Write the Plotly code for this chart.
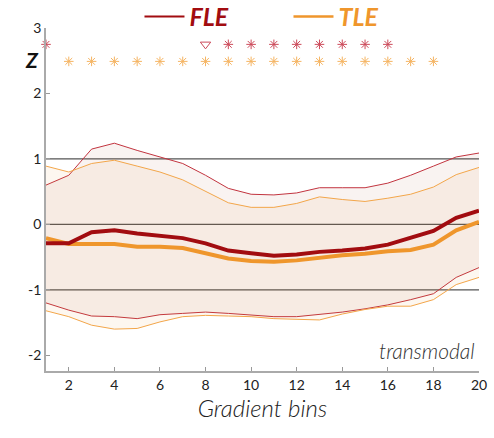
import plotly.graph_objects as go

bins = list(range(1, 21))
fle_mean = [-0.29, -0.29, -0.12, -0.09, -0.14, -0.18, -0.21, -0.29, -0.40, -0.44,
            -0.48, -0.46, -0.42, -0.40, -0.37, -0.31, -0.20, -0.10, 0.10, 0.21]
fle_upper = [0.60, 0.75, 1.15, 1.24, 1.13, 1.03, 0.93, 0.75, 0.55, 0.46,
             0.45, 0.48, 0.56, 0.56, 0.56, 0.63, 0.75, 0.89, 1.03, 1.09]
fle_lower = [-1.20, -1.31, -1.40, -1.41, -1.44, -1.38, -1.36, -1.34, -1.36, -1.38,
             -1.41, -1.41, -1.38, -1.34, -1.29, -1.23, -1.15, -1.06, -0.81, -0.66]
tle_mean = [-0.21, -0.30, -0.30, -0.30, -0.34, -0.34, -0.36, -0.44, -0.52, -0.56,
            -0.57, -0.55, -0.51, -0.47, -0.45, -0.41, -0.39, -0.31, -0.09, 0.04]
tle_upper = [0.89, 0.80, 0.93, 0.98, 0.89, 0.80, 0.68, 0.50, 0.33, 0.26,
             0.26, 0.32, 0.42, 0.38, 0.35, 0.40, 0.46, 0.57, 0.76, 0.87]
tle_lower = [-1.32, -1.41, -1.54, -1.60, -1.59, -1.49, -1.41, -1.39, -1.40, -1.41,
             -1.44, -1.45, -1.46, -1.37, -1.30, -1.25, -1.25, -1.15, -0.92, -0.81]

fle_star_bins = [1, 9, 10, 11, 12, 13, 14, 15, 16]
fle_tri_bins = [8]
tle_star_bins = list(range(2, 19))
fle_sig_level = 2.75
tle_sig_level = 2.49

x_ticks = [2, 4, 6, 8, 10, 12, 14, 16, 18, 20]
y_ticks = [-2, -1, 0, 1, 2, 3]
y_tick_labels = ["-2", "-1", "0", "1", "2", "3"]
ref_levels = [-1, 0, 1]

FLE = "#a20c10"
FLE_B = "#c2343f"
TLE = "#ef962c"
TLE_B = "#f3a64a"
FONT = "Lato"

fig = go.Figure()

# bands
fig.add_trace(go.Scatter(x=bins, y=fle_upper, mode="lines", line=dict(color=FLE_B, width=1),
                         showlegend=False, hoverinfo="skip"))
fig.add_trace(go.Scatter(x=bins, y=fle_lower, mode="lines", line=dict(color=FLE_B, width=1),
                         fill="tonexty", fillcolor="rgba(170,90,60,0.07)",
                         showlegend=False, hoverinfo="skip"))
fig.add_trace(go.Scatter(x=bins, y=tle_upper, mode="lines", line=dict(color=TLE_B, width=1),
                         showlegend=False, hoverinfo="skip"))
fig.add_trace(go.Scatter(x=bins, y=tle_lower, mode="lines", line=dict(color=TLE_B, width=1),
                         fill="tonexty", fillcolor="rgba(220,140,40,0.07)",
                         showlegend=False, hoverinfo="skip"))

# means
fig.add_trace(go.Scatter(x=bins, y=tle_mean, mode="lines", line=dict(color=TLE, width=4),
                         showlegend=False, hoverinfo="skip"))
fig.add_trace(go.Scatter(x=bins, y=fle_mean, mode="lines", line=dict(color=FLE, width=4),
                         showlegend=False, hoverinfo="skip"))

# legend entries (thin line swatches)
fig.add_trace(go.Scatter(x=[None], y=[None], mode="lines", line=dict(color=FLE, width=2),
                         name="<b><i><span style='color:%s'>FLE</span></i></b>" % FLE))
fig.add_trace(go.Scatter(x=[None], y=[None], mode="lines", line=dict(color=TLE, width=2.5),
                         name="<b><i><span style='color:%s'>TLE</span></i></b>" % TLE))

# significance markers
fig.add_trace(go.Scatter(x=fle_star_bins, y=[fle_sig_level] * len(fle_star_bins), mode="markers",
                         marker=dict(symbol="asterisk-open", size=8, color="#cc4a5a",
                                     line=dict(color="#cc4a5a", width=1)),
                         showlegend=False, cliponaxis=False, hoverinfo="skip"))
fig.add_trace(go.Scatter(x=fle_tri_bins, y=[fle_sig_level] * len(fle_tri_bins), mode="markers",
                         marker=dict(symbol="triangle-down-open", size=9, color="#cc4a5a",
                                     line=dict(color="#cc4a5a", width=1)),
                         showlegend=False, cliponaxis=False, hoverinfo="skip"))
fig.add_trace(go.Scatter(x=tle_star_bins, y=[tle_sig_level] * len(tle_star_bins), mode="markers",
                         marker=dict(symbol="asterisk-open", size=8, color="#f5b462",
                                     line=dict(color="#f5b462", width=1)),
                         showlegend=False, cliponaxis=False, hoverinfo="skip"))

for lv in ref_levels:
    fig.add_shape(type="line", x0=bins[0], x1=bins[-1], y0=lv, y1=lv, xref="x", yref="y",
                  line=dict(color="#555555", width=1.3), layer="below")

fig.add_annotation(x=0, y=2.52, xref="paper", yref="y", xanchor="right", xshift=-5,
                   text="<b><i>Z</i></b>", showarrow=False,
                   font=dict(family=FONT, size=21, color="#111111"))
fig.add_annotation(x=1, y=0, xref="paper", yref="paper", xanchor="right", yanchor="bottom",
                   xshift=-2, yshift=6, text="<i>transmodal</i>", showarrow=False,
                   font=dict(family=FONT, size=21, color="#333333", weight=300))

fig.update_layout(
    width=494, height=438,
    margin=dict(l=46, r=15, t=28, b=67, autoexpand=False),
    paper_bgcolor="white", plot_bgcolor="white",
    font=dict(family=FONT, color="#222222"),
    legend=dict(orientation="h", x=0.56, xanchor="center", y=0.962, yanchor="middle",
                yref="container", font=dict(size=25, family=FONT),
                bgcolor="rgba(0,0,0,0)", itemwidth=40, entrywidth=94, traceorder="normal"),
    xaxis=dict(range=[1, 20], tickvals=x_ticks, showline=True, linecolor="#aaaaaa", linewidth=1.5,
               ticks="inside", ticklen=4, tickcolor="#999999", showgrid=False, zeroline=False,
               tickfont=dict(size=14, color="#222222"),
               title=dict(text="<i>Gradient bins</i>",
                          font=dict(size=24, color="#222222", weight=300), standoff=4)),
    yaxis=dict(range=[-2.24, 3], tickvals=y_ticks, ticktext=y_tick_labels, showline=True,
               linecolor="#aaaaaa", linewidth=1.5,
               ticks="inside", ticklen=4, tickcolor="#999999", showgrid=False, zeroline=False,
               tickfont=dict(size=14, color="#222222")),
)

fig.write_html("out.html", config={"displayModeBar": False},
               post_script="document.body.style.margin='0';document.body.style.overflow='hidden';")
